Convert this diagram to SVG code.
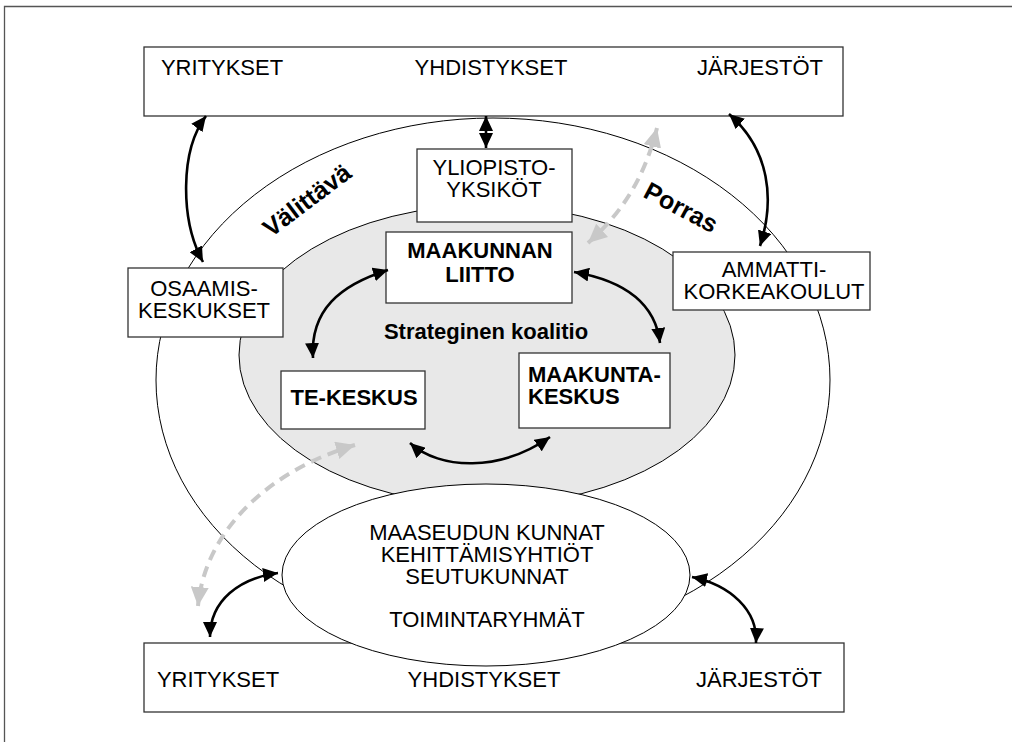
<svg xmlns="http://www.w3.org/2000/svg" width="1022" height="742" viewBox="0 0 1022 742">
<style>
text{font-family:"Liberation Sans",Arial,sans-serif;font-size:22px;fill:#000}
.b{font-weight:bold}
.r{font-size:25px;font-weight:bold}
.box{fill:#fff;stroke:#333;stroke-width:1.3}
.ell{fill:#fff;stroke:#000;stroke-width:1}
.con{fill:none;stroke:#000;stroke-width:2.6;marker-start:url(#ah);marker-end:url(#ah)}
.gcon{fill:none;stroke:#c8c8c8;stroke-width:4;stroke-dasharray:11 7;marker-start:url(#gh);marker-end:url(#gh)}
</style>
<defs>
<marker id="ah" markerUnits="userSpaceOnUse" markerWidth="16" markerHeight="14" refX="15" refY="7" orient="auto-start-reverse"><path d="M0,0 L15,7 L0,14 z" fill="#000"/></marker>
<marker id="gh" markerUnits="userSpaceOnUse" markerWidth="20" markerHeight="18" refX="19" refY="9" orient="auto-start-reverse"><path d="M0,0 L19,9 L0,18 z" fill="#c8c8c8"/></marker>
</defs>
<rect width="1022" height="742" fill="#fff"/>
<path d="M4.5,742 V6.5 H1012" fill="none" stroke="#555" stroke-width="1.3"/>

<g id="top-box"><rect class="box" x="144" y="47" width="699" height="69"/>
<text x="222" y="75" text-anchor="middle">YRITYKSET</text>
<text x="491" y="75" text-anchor="middle">YHDISTYKSET</text>
<text x="760" y="75" text-anchor="middle">JÄRJESTÖT</text></g>

<g id="bottom-box"><rect class="box" x="144" y="643" width="700" height="69"/>
<text x="218" y="687" text-anchor="middle">YRITYKSET</text>
<text x="484" y="687" text-anchor="middle">YHDISTYKSET</text>
<text x="759" y="687" text-anchor="middle">JÄRJESTÖT</text></g>

<g id="outer-ring"><ellipse class="ell" cx="493" cy="380" rx="337" ry="262"/>
<text class="r" transform="translate(312,207) rotate(-37)" text-anchor="middle">Välittävä</text>
<text class="r" transform="translate(677,215) rotate(28)" text-anchor="middle">Porras</text></g>

<g id="coalition"><ellipse cx="487" cy="355" rx="248" ry="150" fill="#e8e8e8" stroke="#000" stroke-width="1"/>
<text class="b" x="486" y="339" text-anchor="middle">Strateginen koalitio</text></g>

<g id="local"><ellipse class="ell" cx="486" cy="575" rx="204" ry="91"/>
<text x="487" y="540" text-anchor="middle">MAASEUDUN KUNNAT</text>
<text x="487" y="562" text-anchor="middle">KEHITTÄMISYHTIÖT</text>
<text x="487" y="584" text-anchor="middle">SEUTUKUNNAT</text>
<text x="487" y="627" text-anchor="middle">TOIMINTARYHMÄT</text></g>

<g id="yliopisto"><rect class="box" x="417" y="149" width="155" height="73"/>
<text x="494" y="175" text-anchor="middle">YLIOPISTO-</text>
<text x="494" y="197" text-anchor="middle">YKSIKÖT</text></g>

<g id="liitto"><rect class="box" x="386" y="232" width="186" height="71"/>
<text class="b" x="480" y="258" text-anchor="middle">MAAKUNNAN</text>
<text class="b" x="480" y="282" text-anchor="middle">LIITTO</text></g>

<g id="osaamis"><rect class="box" x="128" y="268" width="155" height="69"/>
<text x="204" y="296" text-anchor="middle">OSAAMIS-</text>
<text x="204" y="318" text-anchor="middle">KESKUKSET</text></g>

<g id="ammatti"><rect class="box" x="673" y="252" width="197" height="58"/>
<text x="774" y="277" text-anchor="middle">AMMATTI-</text>
<text x="774" y="299" text-anchor="middle">KORKEAKOULUT</text></g>

<g id="te-keskus"><rect class="box" x="281" y="371" width="144" height="58"/>
<text class="b" x="354" y="405" text-anchor="middle">TE-KESKUS</text></g>

<g id="maakunta-keskus"><rect class="box" x="519" y="353" width="151" height="75"/>
<text class="b" x="528" y="382">MAAKUNTA-</text>
<text class="b" x="528" y="404">KESKUS</text></g>

<g id="connectors">
<path class="con" d="M206,116 C180,150 180,220 203,262"/>
<path class="con" d="M486,116 V148"/>
<path class="con" d="M729,114 C770,150 775,200 760,246"/>
<path class="gcon" d="M657,128 C645,175 625,210 588,243"/>
<path class="con" d="M388,270 C340,285 310,310 313,358"/>
<path class="con" d="M574,272 C620,280 655,300 660,343"/>
<path class="con" d="M410,443 C440,470 500,472 550,437"/>
<path class="gcon" d="M355,445 C270,470 205,530 198,606"/>
<path class="con" d="M278,573 C240,578 210,600 210,637"/>
<path class="con" d="M692,577 C730,585 758,610 756,643"/>
</g>
</svg>
